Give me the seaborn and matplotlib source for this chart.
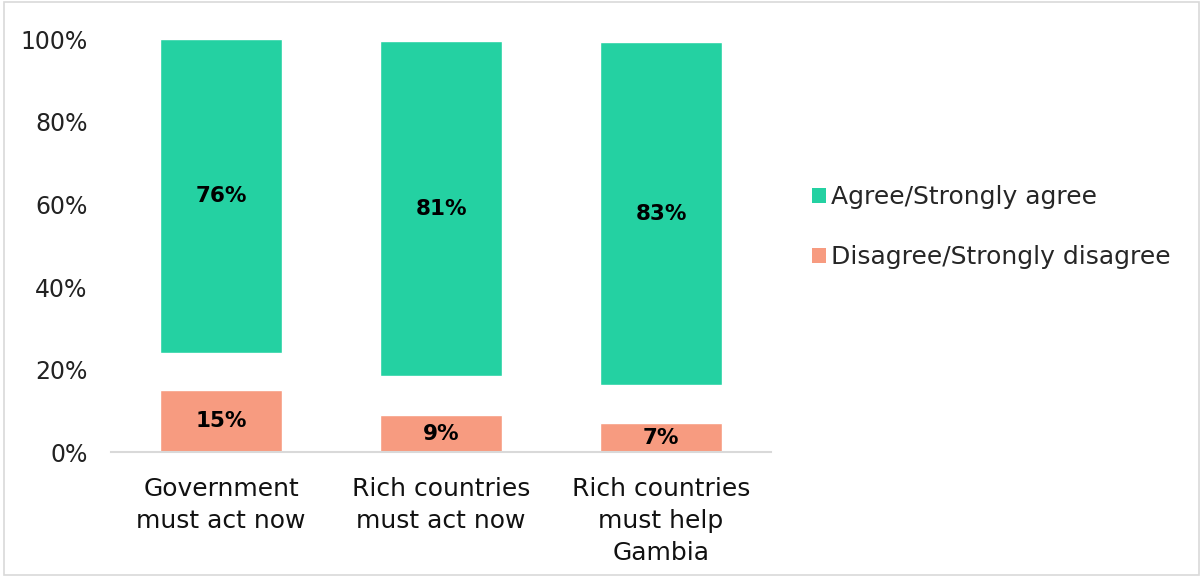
import matplotlib
matplotlib.use("Agg")
import matplotlib.pyplot as plt
from matplotlib.patches import Patch, Rectangle
import numpy as np
import pandas as pd
import seaborn as sns

# Survey statements and response shares (%)
statements = ["Government\nmust act now", "Rich countries\nmust act now", "Rich countries\nmust help\nGambia"]
disagree = [15, 9, 7]
neither = [9, 9.5, 9.3]          # neutral / don't know, left blank
agree = [76, 81, 83]
y_ticks = [0, 20, 40, 60, 80, 100]
legend_labels = ["Agree/Strongly agree", "Disagree/Strongly disagree"]

GREEN = "#24D1A2"
SALMON = "#F79B80"

sns.set_theme(style="white")
plt.rcParams["font.family"] = ["DejaVu Sans"]

df = pd.DataFrame({"statement": statements, "disagree": disagree,
                   "neither": neither, "agree": agree})
agree_bottom = (df["disagree"] + df["neither"]).to_numpy()

fig = plt.figure(figsize=(12.03, 5.77), dpi=100)
ax = fig.add_axes([0.0923, 0.216, 0.5487, 0.716])

sns.barplot(data=df, x="statement", y="disagree", color=SALMON, width=0.555,
            saturation=1, ax=ax)
sns.barplot(data=df, x="statement", y="agree", color=GREEN, width=0.555,
            saturation=1, bottom=agree_bottom, ax=ax)

for cont in ax.containers:
    ax.bar_label(cont, fmt="{:.0f}%", label_type="center",
                 fontsize=15.5, fontweight="bold", color="black")

ax.set_ylim(0, 100)
ax.set_xlim(-0.5, len(statements) - 0.5)
ax.set_yticks(y_ticks)
ax.set_yticklabels([f"{t}%" for t in y_ticks])
ax.set_xlabel("")
ax.set_ylabel("")
ax.tick_params(axis="y", labelsize=17, colors="#222222", length=0, pad=17)
ax.tick_params(axis="x", labelsize=18, colors="#111111", length=0, pad=18)
for lbl in ax.get_xticklabels():
    lbl.set_linespacing(1.42)
ax.grid(False)
for side in ["top", "right", "left"]:
    ax.spines[side].set_visible(False)
ax.spines["bottom"].set_color("#D9D9D9")
ax.spines["bottom"].set_linewidth(1.5)

handles = [Patch(facecolor=GREEN, edgecolor="none"),
           Patch(facecolor=SALMON, edgecolor="none")]
fig.legend(handles, legend_labels, loc="center left",
           bbox_to_anchor=(0.6665, 1 - 227 / 577), frameon=False,
           fontsize=18, handlelength=0.55, handleheight=0.55,
           handletextpad=0.2, labelspacing=1.45, borderaxespad=0)

# Thin frame around the whole chart area
fig.add_artist(Rectangle((0.003, 0.003), 0.994, 0.994, transform=fig.transFigure,
                         fill=False, edgecolor="#D9D9D9", linewidth=1.2))

fig.savefig("out.png", dpi=100)
